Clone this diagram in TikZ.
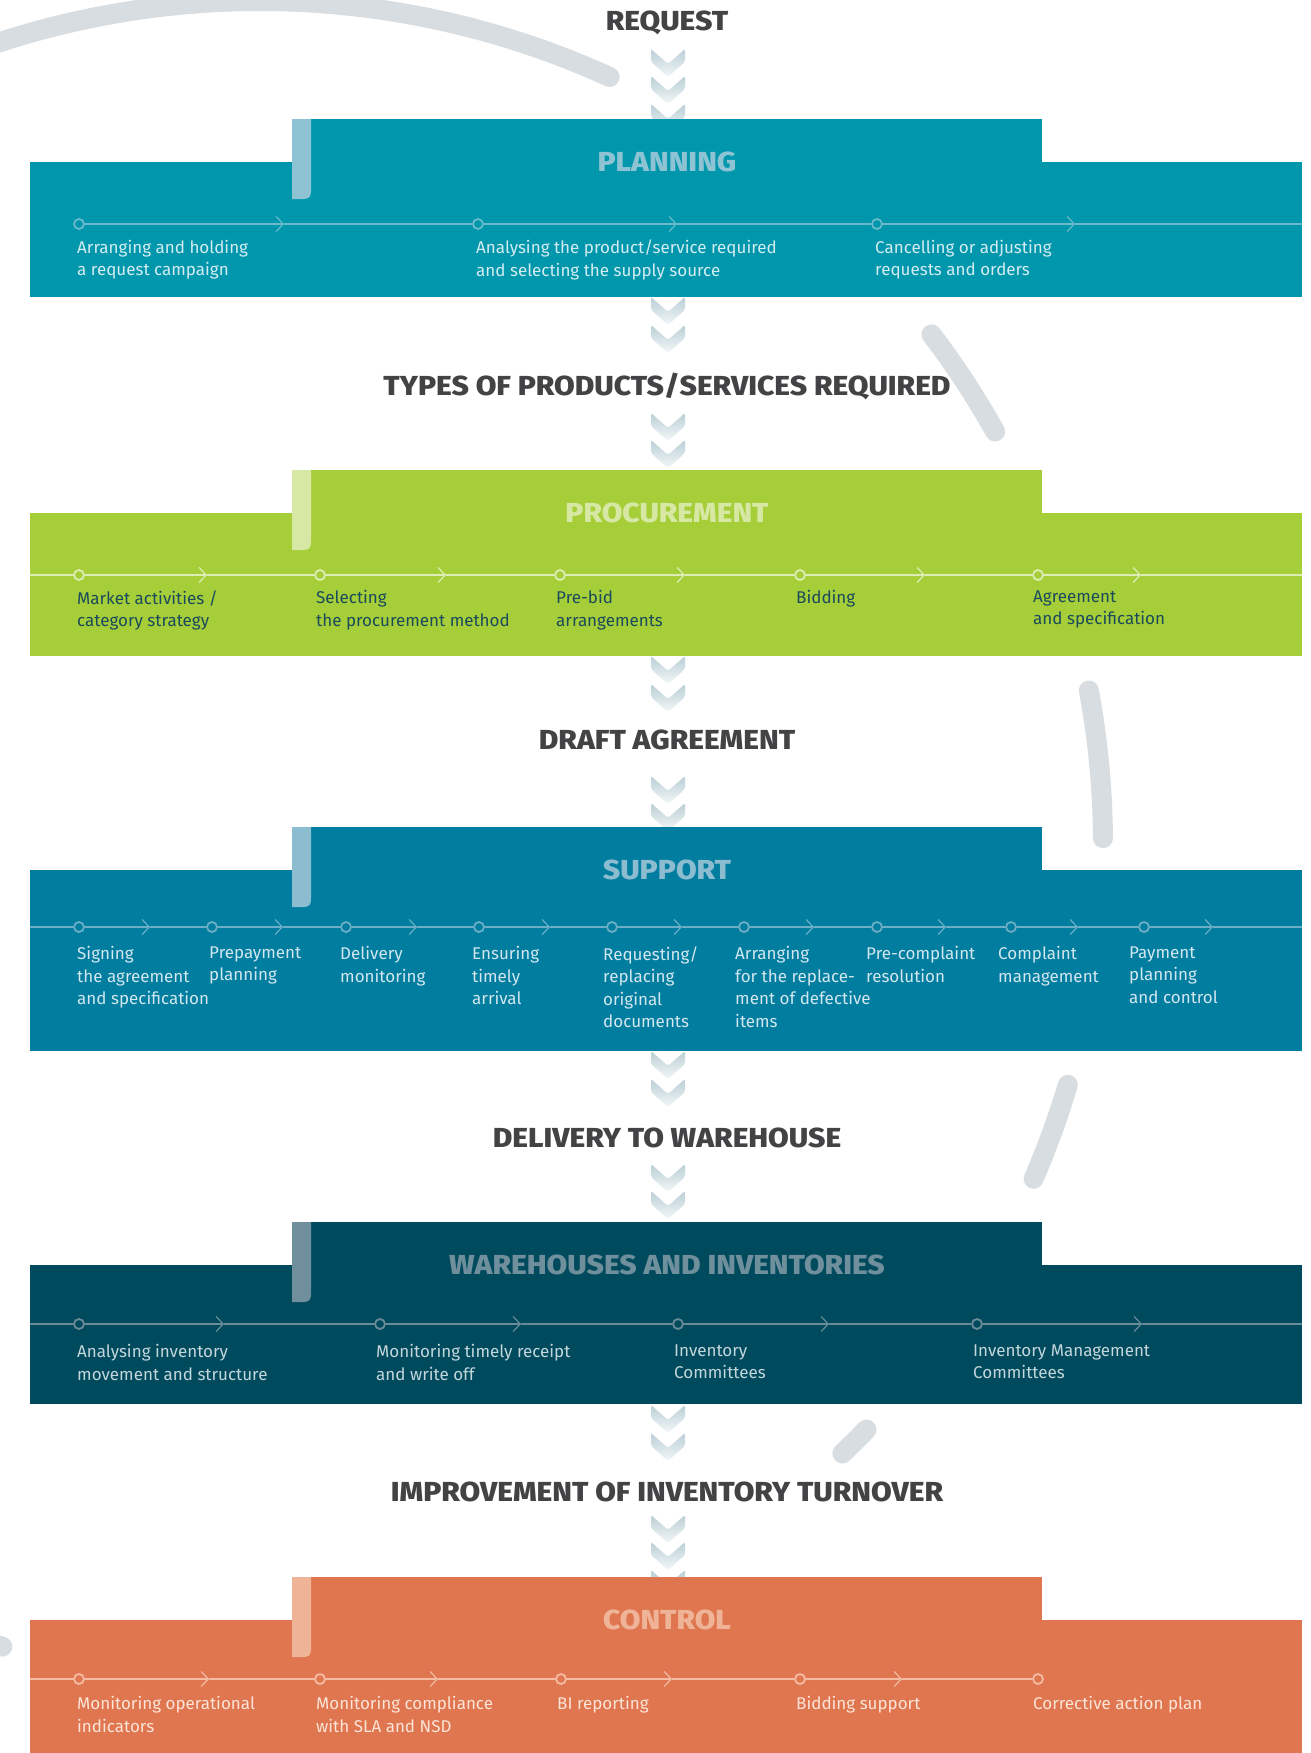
\documentclass[tikz,border=0pt]{standalone}
\usepackage{fontspec}
\setmainfont{Fira Sans}
\newfontfamily\headfont{Fira Sans ExtraBold}[FakeStretch=1.09]
\usetikzlibrary{positioning,arrows.meta,calc}
\definecolor{headgray}{HTML}{434345}
\definecolor{arcgray}{HTML}{D8DDE1}
\definecolor{chevtop}{HTML}{BACFD6}
\definecolor{chevbot}{HTML}{F3F7F8}
\definecolor{plfill}{HTML}{0097AD}
\definecolor{plpale}{HTML}{8DC3D2}
\definecolor{plline}{HTML}{6ABACB}
\definecolor{pltext}{HTML}{D4ECF1}
\definecolor{prfill}{HTML}{A6CE39}
\definecolor{prpale}{HTML}{D6E8A3}
\definecolor{prline}{HTML}{DCEDB5}
\definecolor{prtext}{HTML}{1A4A5C}
\definecolor{sufill}{HTML}{017D9F}
\definecolor{supale}{HTML}{8BBCD0}
\definecolor{suline}{HTML}{6BAEC6}
\definecolor{sutext}{HTML}{D2E7EF}
\definecolor{whfill}{HTML}{004A5D}
\definecolor{whpale}{HTML}{6E8F9B}
\definecolor{whline}{HTML}{6A8C98}
\definecolor{whtext}{HTML}{C3D6DC}
\definecolor{cofill}{HTML}{DF764F}
\definecolor{copale}{HTML}{EFB497}
\definecolor{coline}{HTML}{F3BCA3}
\definecolor{cotext}{HTML}{FCE4D8}
\tikzset{
  heading/.style={anchor=base, inner sep=0pt, text=headgray,
    font=\headfont\fontsize{27.5}{30}\selectfont},
  bandtitle/.style={anchor=base, inner sep=0pt, font=\headfont\fontsize{27.5}{30}\selectfont},
  stepnote/.style={anchor=north west, align=left, inner sep=0pt,
    font=\fontsize{17}{22.4}\selectfont},
  stepdot/.style={circle, line width=1.8pt, minimum size=10pt, inner sep=0pt},
  track/.style={line width=1.2pt},
  tracktick/.style={track, -{Straight Barb[length=7pt,width=15pt]}},
  arcline/.style={draw=arcgray, line width=20pt, line cap=round},
  pics/vchev/.style={code={
    \shade[top color=chevtop, bottom color=chevbot, rounded corners=2pt]
      (-17,0) -- (0,15) -- (17,0) -- (17,13) -- (0,28) -- (-17,13) -- cycle;}},
}
% band: #1 top of main strip, #2 bottom, #3 fill, #4 pale stripe
\newcommand{\drawband}[4]{%
  \fill[#3] (30,#1) rectangle (1302,#2);
  \fill[#3] (292,#1-43) rectangle (1042,#1);
  \fill[#4] (292,#1-43) -- (311,#1-43) -- (311,#1+29)
    .. controls (311,#1+35) and (309,#1+37) .. (303,#1+37) -- (292,#1+37) -- cycle;
}

\begin{document}
\begin{tikzpicture}[x=1pt, y=-1pt]
  \fill[white] (0,0) rectangle (1310,1753);
  \useasboundingbox (0,0) rectangle (1310,1753);

  % background ring
  \coordinate (hub) at (260,844);
  \draw[arcline] (hub) ++(-118:843) arc[start angle=-118, end angle=-65.5, radius=843];
  \draw[arcline] (hub) ++(-37.2:843) arc[start angle=-37.2, end angle=-29.3, radius=843];
  \draw[arcline] (hub) ++(-10.5:843) arc[start angle=-10.5, end angle=-0.4, radius=843];
  \draw[arcline] (hub) ++(16.6:843) arc[start angle=16.6, end angle=23.4, radius=843];
  \draw[arcline] (hub) ++(44:843) arc[start angle=44, end angle=46.3, radius=843];
  \draw[arcline] (hub) ++(107.8:843) arc[start angle=107.8, end angle=115, radius=843];

  % flow chevrons
  \pic at (668,49) {vchev}; \pic at (668,76) {vchev}; \pic at (668,104) {vchev};
  \pic at (668,297) {vchev}; \pic at (668,325) {vchev};
  \pic at (668,413) {vchev}; \pic at (668,440) {vchev};
  \pic at (668,656) {vchev}; \pic at (668,684) {vchev};
  \pic at (668,776) {vchev}; \pic at (668,803) {vchev};
  \pic at (668,1051) {vchev}; \pic at (668,1079) {vchev};
  \pic at (668,1164) {vchev}; \pic at (668,1191) {vchev};
  \pic at (668,1405) {vchev}; \pic at (668,1433) {vchev};
  \pic at (668,1515) {vchev}; \pic at (668,1542) {vchev}; \pic at (668,1570) {vchev};

  % headings between stages
  \node[heading] (request) at (667,31) {REQUEST};
  \node[heading] (types) at (667,395) {TYPES OF PRODUCTS/SERVICES REQUIRED};
  \node[heading] (draft) at (667,749) {DRAFT AGREEMENT};
  \node[heading] (delivery) at (667,1147) {DELIVERY TO WAREHOUSE};
  \node[heading] (turnover) at (667,1501.5) {IMPROVEMENT OF INVENTORY TURNOVER};

  % planning
  \drawband{162}{297}{plfill}{plpale}
  \node[bandtitle, text=plpale] (plhead) at (667,171.3) {PLANNING};
  \node[stepdot, draw=plline, fill=plfill] (pl1) at (79,224) {};
  \node[stepdot, draw=plline, fill=plfill] (pl2) at (478,224) {};
  \node[stepdot, draw=plline, fill=plfill] (pl3) at (877,224) {};
  \coordinate (plm1) at (284,224); \coordinate (plm2) at (677,224);
  \coordinate (plm3) at (1075,224); \coordinate (plend) at (1302,224);
  \draw[tracktick, plline] (pl1) -- (plm1); \draw[track, plline] (plm1) -- (pl2);
  \draw[tracktick, plline] (pl2) -- (plm2); \draw[track, plline] (plm2) -- (pl3);
  \draw[tracktick, plline] (pl3) -- (plm3); \draw[track, plline] (plm3) -- (plend);
  \node[stepnote, text=pltext] (pltx1) at (77,240) {Arranging and holding\\a request campaign};
  \node[stepnote, text=pltext] (pltx2) at (476,240) {Analysing the product/service required\\and selecting the supply source};
  \node[stepnote, text=pltext] (pltx3) at (875,240) {Cancelling or adjusting\\requests and orders};

  % procurement
  \drawband{513}{656}{prfill}{prpale}
  \node[bandtitle, text=prpale] (prhead) at (667,522.3) {PROCUREMENT};
  \coordinate (prstart) at (30,575); \coordinate (prend) at (1302,575);
  \node[stepdot, draw=prline, fill=prfill] (pr1) at (79,575) {};
  \node[stepdot, draw=prline, fill=prfill] (pr2) at (320,575) {};
  \node[stepdot, draw=prline, fill=prfill] (pr3) at (560,575) {};
  \node[stepdot, draw=prline, fill=prfill] (pr4) at (800,575) {};
  \node[stepdot, draw=prline, fill=prfill] (pr5) at (1038,575) {};
  \coordinate (prm1) at (207,575); \coordinate (prm2) at (446,575);
  \coordinate (prm3) at (685,575); \coordinate (prm4) at (925,575);
  \coordinate (prm5) at (1141,575);
  \draw[track, prline] (prstart) -- (pr1);
  \draw[tracktick, prline] (pr1) -- (prm1); \draw[track, prline] (prm1) -- (pr2);
  \draw[tracktick, prline] (pr2) -- (prm2); \draw[track, prline] (prm2) -- (pr3);
  \draw[tracktick, prline] (pr3) -- (prm3); \draw[track, prline] (prm3) -- (pr4);
  \draw[tracktick, prline] (pr4) -- (prm4); \draw[track, prline] (prm4) -- (pr5);
  \draw[tracktick, prline] (pr5) -- (prm5); \draw[track, prline] (prm5) -- (prend);
  \node[stepnote, text=prtext] (prtx1) at (77,590.5) {Market activities /\\category strategy};
  \node[stepnote, text=prtext] (prtx2) at (316,590.5) {Selecting\\the procurement method};
  \node[stepnote, text=prtext] (prtx3) at (556,590.5) {Pre-bid\\arrangements};
  \node[stepnote, text=prtext] (prtx4) at (796,590.5) {Bidding};
  \node[stepnote, text=prtext] (prtx5) at (1033,590.5) {Agreement\\and specification};

  % support
  \drawband{870}{1051}{sufill}{supale}
  \node[bandtitle, text=supale] (suhead) at (667,879.3) {SUPPORT};
  \coordinate (sustart) at (30,927); \coordinate (suend) at (1302,927);
  \node[stepdot, draw=suline, fill=sufill] (su1) at (79,927) {};
  \node[stepdot, draw=suline, fill=sufill] (su2) at (212,927) {};
  \node[stepdot, draw=suline, fill=sufill] (su3) at (346,927) {};
  \node[stepdot, draw=suline, fill=sufill] (su4) at (479,927) {};
  \node[stepdot, draw=suline, fill=sufill] (su5) at (612,927) {};
  \node[stepdot, draw=suline, fill=sufill] (su6) at (744,927) {};
  \node[stepdot, draw=suline, fill=sufill] (su7) at (877,927) {};
  \node[stepdot, draw=suline, fill=sufill] (su8) at (1011,927) {};
  \node[stepdot, draw=suline, fill=sufill] (su9) at (1144,927) {};
  \coordinate (sum1) at (150,927); \coordinate (sum2) at (283,927);
  \coordinate (sum3) at (417,927); \coordinate (sum4) at (550,927);
  \coordinate (sum5) at (682,927); \coordinate (sum6) at (814,927);
  \coordinate (sum7) at (946,927); \coordinate (sum8) at (1078,927);
  \coordinate (sum9) at (1213,927);
  \draw[track, suline] (sustart) -- (su1);
  \draw[tracktick, suline] (su1) -- (sum1); \draw[track, suline] (sum1) -- (su2);
  \draw[tracktick, suline] (su2) -- (sum2); \draw[track, suline] (sum2) -- (su3);
  \draw[tracktick, suline] (su3) -- (sum3); \draw[track, suline] (sum3) -- (su4);
  \draw[tracktick, suline] (su4) -- (sum4); \draw[track, suline] (sum4) -- (su5);
  \draw[tracktick, suline] (su5) -- (sum5); \draw[track, suline] (sum5) -- (su6);
  \draw[tracktick, suline] (su6) -- (sum6); \draw[track, suline] (sum6) -- (su7);
  \draw[tracktick, suline] (su7) -- (sum7); \draw[track, suline] (sum7) -- (su8);
  \draw[tracktick, suline] (su8) -- (sum8); \draw[track, suline] (sum8) -- (su9);
  \draw[tracktick, suline] (su9) -- (sum9); \draw[track, suline] (sum9) -- (suend);
  \node[stepnote, text=sutext] (sutx1) at (77,946.5) {Signing\\the agreement\\and specification};
  \node[stepnote, text=sutext] (sutx2) at (209,946.5) {Prepayment\\planning};
  \node[stepnote, text=sutext] (sutx3) at (340,946.5) {Delivery\\monitoring};
  \node[stepnote, text=sutext] (sutx4) at (472,946.5) {Ensuring\\timely\\arrival};
  \node[stepnote, text=sutext] (sutx5) at (603,946.5) {Requesting/\\replacing\\original\\documents};
  \node[stepnote, text=sutext] (sutx6) at (735,946.5) {Arranging\\for the replace-\\ment of defective\\items};
  \node[stepnote, text=sutext] (sutx7) at (866,946.5) {Pre-complaint\\resolution};
  \node[stepnote, text=sutext] (sutx8) at (998,946.5) {Complaint\\management};
  \node[stepnote, text=sutext] (sutx9) at (1129,946.5) {Payment\\planning\\and control};

  % warehouses and inventories
  \drawband{1265}{1404}{whfill}{whpale}
  \node[bandtitle, text=whpale] (whhead) at (667,1274.3) {WAREHOUSES AND INVENTORIES};
  \coordinate (whstart) at (30,1324); \coordinate (whend) at (1302,1324);
  \node[stepdot, draw=whline, fill=whfill] (wh1) at (79,1324) {};
  \node[stepdot, draw=whline, fill=whfill] (wh2) at (380,1324) {};
  \node[stepdot, draw=whline, fill=whfill] (wh3) at (678,1324) {};
  \node[stepdot, draw=whline, fill=whfill] (wh4) at (977,1324) {};
  \coordinate (whm1) at (224,1324); \coordinate (whm2) at (521,1324);
  \coordinate (whm3) at (829,1324); \coordinate (whm4) at (1142,1324);
  \draw[track, whline] (whstart) -- (wh1);
  \draw[tracktick, whline] (wh1) -- (whm1); \draw[track, whline] (whm1) -- (wh2);
  \draw[tracktick, whline] (wh2) -- (whm2); \draw[track, whline] (whm2) -- (wh3);
  \draw[tracktick, whline] (wh3) -- (whm3); \draw[track, whline] (whm3) -- (wh4);
  \draw[tracktick, whline] (wh4) -- (whm4); \draw[track, whline] (whm4) -- (whend);
  \node[stepnote, text=whtext] (whtx1) at (77,1344.5) {Analysing inventory\\movement and structure};
  \node[stepnote, text=whtext] (whtx2) at (376,1344.5) {Monitoring timely receipt\\and write off};
  \node[stepnote, text=whtext] (whtx3) at (674,1344.5) {Inventory\\Committees};
  \node[stepnote, text=whtext] (whtx4) at (973,1344.5) {Inventory Management\\Committees};

  % control
  \drawband{1620}{1760}{cofill}{copale}
  \node[bandtitle, text=copale] (cohead) at (667,1629.3) {CONTROL};
  \coordinate (costart) at (30,1679);
  \node[stepdot, draw=coline, fill=cofill] (co1) at (79,1679) {};
  \node[stepdot, draw=coline, fill=cofill] (co2) at (320,1679) {};
  \node[stepdot, draw=coline, fill=cofill] (co3) at (561,1679) {};
  \node[stepdot, draw=coline, fill=cofill] (co4) at (800,1679) {};
  \node[stepdot, draw=coline, fill=cofill] (co5) at (1038,1679) {};
  \coordinate (com1) at (209,1679); \coordinate (com2) at (438,1679);
  \coordinate (com3) at (672,1679); \coordinate (com4) at (902,1679);
  \draw[track, coline] (costart) -- (co1);
  \draw[tracktick, coline] (co1) -- (com1); \draw[track, coline] (com1) -- (co2);
  \draw[tracktick, coline] (co2) -- (com2); \draw[track, coline] (com2) -- (co3);
  \draw[tracktick, coline] (co3) -- (com3); \draw[track, coline] (com3) -- (co4);
  \draw[tracktick, coline] (co4) -- (com4); \draw[track, coline] (com4) -- (co5);
  \node[stepnote, text=cotext] (cotx1) at (77,1696.5) {Monitoring operational\\indicators};
  \node[stepnote, text=cotext] (cotx2) at (316,1696.5) {Monitoring compliance\\with SLA and NSD};
  \node[stepnote, text=cotext] (cotx3) at (557,1696.5) {BI reporting};
  \node[stepnote, text=cotext] (cotx4) at (796,1696.5) {Bidding support};
  \node[stepnote, text=cotext] (cotx5) at (1033,1696.5) {Corrective action plan};
\end{tikzpicture}
\end{document}
